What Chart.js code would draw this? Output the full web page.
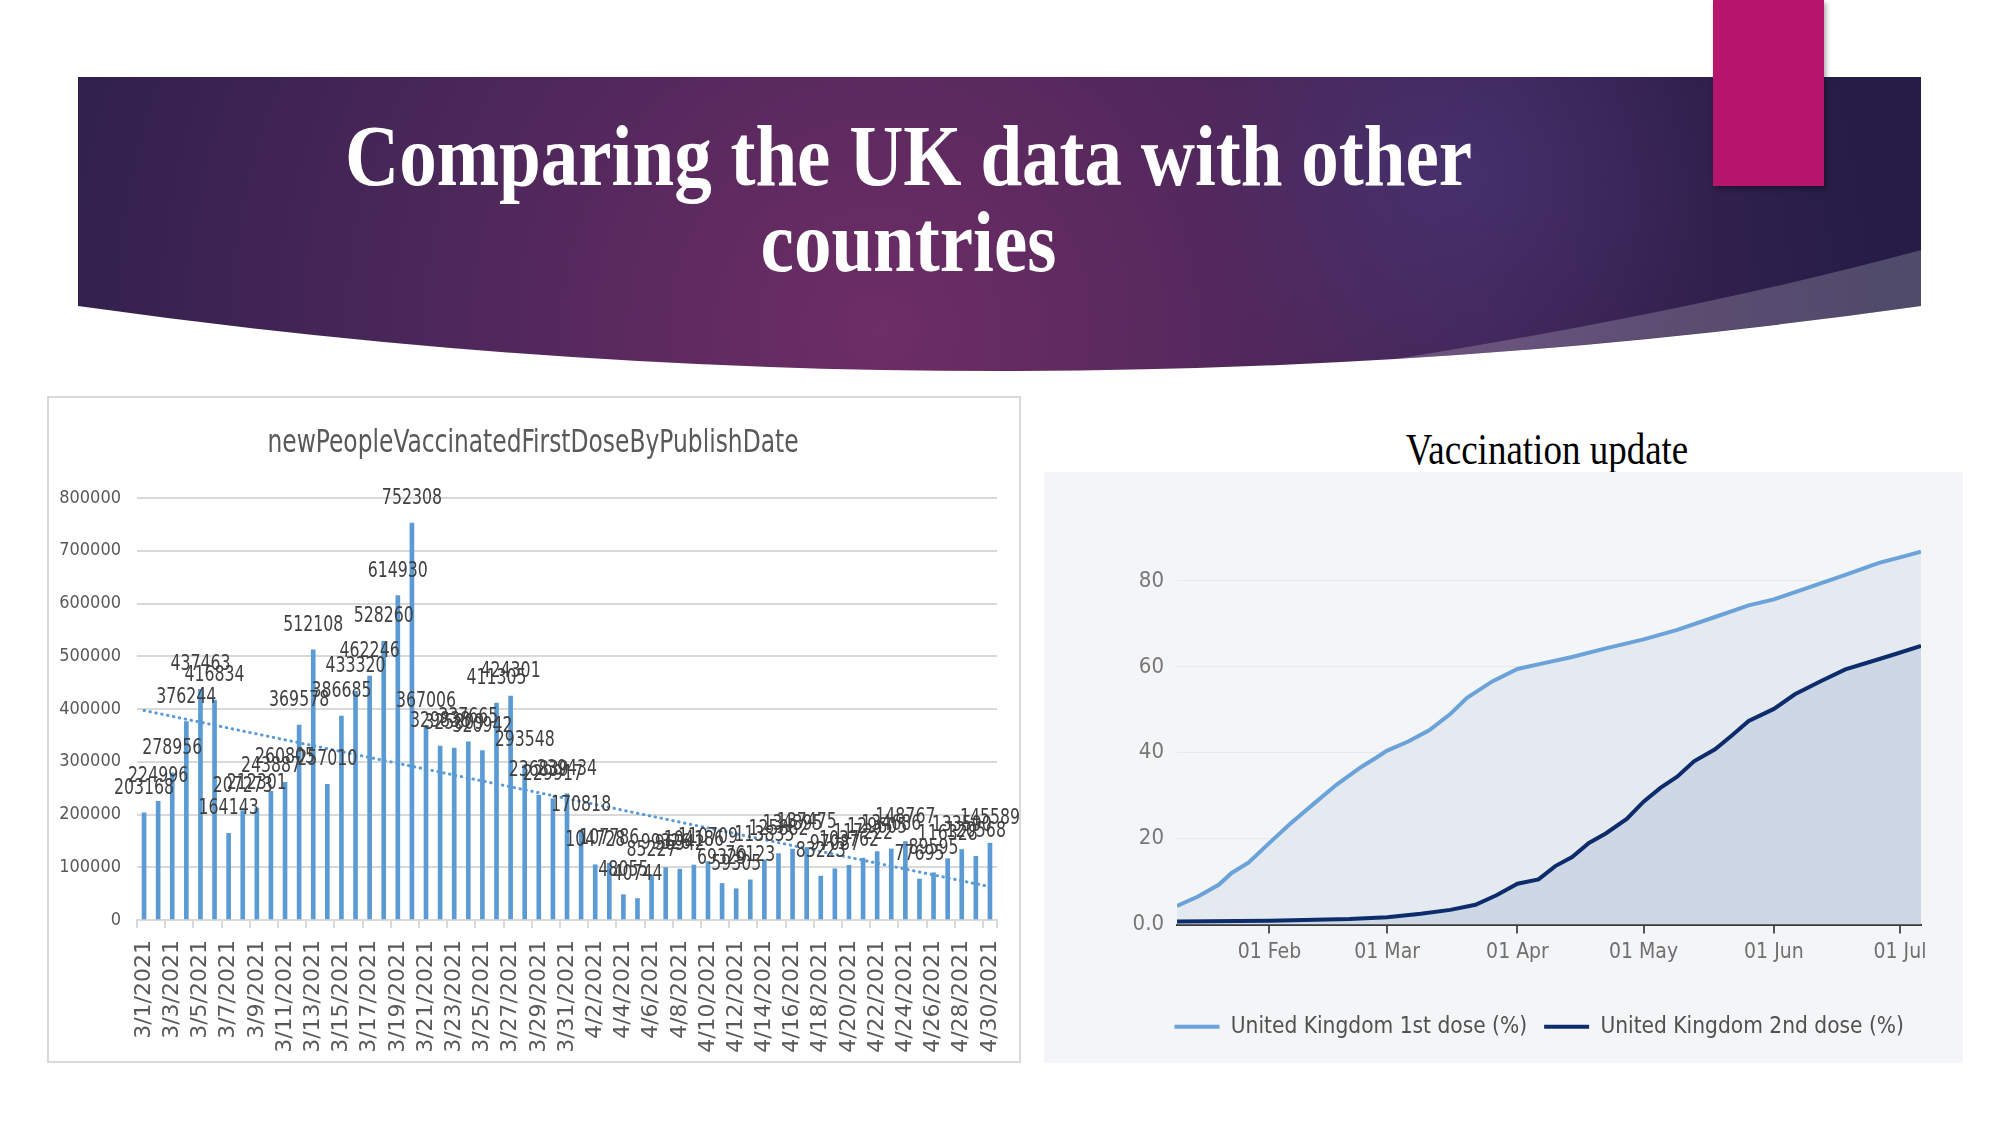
<!DOCTYPE html>
<html>
<head>
<meta charset="utf-8">
<script src="https://cdn.jsdelivr.net/npm/chart.js@4.4.0/dist/chart.umd.min.js"></script>
<style>
  body { margin: 0; width: 2001px; height: 1125px; overflow: hidden; background: #fff; position: relative; }
  .abs { position: absolute; }
  .slideTitle { left: 0; width: 1817px; text-align: center; color: #fff; font: bold 75px "Liberation Serif", "DejaVu Serif", serif; line-height: 1; transform: scaleY(1.15); transform-origin: 50% 0; white-space: nowrap; }
  #pink { left: 1713px; top: 0; width: 111px; height: 186px; background: #b5166b; box-shadow: 2px 3px 5px rgba(0,0,0,0.35); }
  #leftFrame { left: 47px; top: 396px; width: 974px; height: 667px; border: 2px solid #d9d9d9; box-sizing: border-box; background: #fff; }
  #leftWrap { left: 47px; top: 396px; width: 974px; height: 667px; }
  #rightPanel { left: 1044px; top: 472px; width: 919px; height: 591px; background: #f4f5f7; }
  #rightWrap { left: 1044px; top: 472px; width: 1006px; height: 591px; }
  #vacTitle { left: 1247px; width: 600px; top: 428px; text-align: center; color: #000; font: 37px "Liberation Serif", "DejaVu Serif", serif; line-height: 1; transform: scaleY(1.17); transform-origin: 50% 0; }
</style>
</head>
<body>
<svg class="abs" style="left:0;top:0" width="2001" height="400">
  <defs>
    <radialGradient id="bannerGrad" cx="880" cy="330" r="1000" gradientUnits="userSpaceOnUse">
      <stop offset="0" stop-color="#6e2d66"/>
      <stop offset="0.45" stop-color="#4c275a"/>
      <stop offset="1" stop-color="#251d47"/>
    </radialGradient>
    <radialGradient id="blob" cx="1460" cy="170" r="260" gradientUnits="userSpaceOnUse">
      <stop offset="0" stop-color="#4a3a80" stop-opacity="0.55"/>
      <stop offset="1" stop-color="#4a3a80" stop-opacity="0"/>
    </radialGradient>
  </defs>
  <path d="M78,77 H1921 V306 Q1000,436 78,306 Z" fill="url(#bannerGrad)"/>
  <path d="M78,77 H1921 V306 Q1000,436 78,306 Z" fill="url(#blob)"/>
  <path d="M1921,250 Q1700,310 1396,359 Q1658.5,343 1921,306 Z" fill="#ffffff" fill-opacity="0.2"/>
</svg>
<div id="pink" class="abs"></div>
<div class="abs slideTitle" style="top:113px">Comparing the UK data with other</div>
<div class="abs slideTitle" style="top:199px">countries</div>

<div id="leftFrame" class="abs"></div>
<div id="leftWrap" class="abs"><canvas id="barChart"></canvas></div>

<div id="vacTitle" class="abs">Vaccination update</div>
<div id="rightPanel" class="abs"></div>
<div id="rightWrap" class="abs"><canvas id="doseChart"></canvas></div>

<script>
// Daily first doses, 1 March to 30 April 2021
var dayLabels = [];
for (var d = 1; d <= 31; d++) dayLabels.push("3/" + d + "/2021");
for (var d = 1; d <= 30; d++) dayLabels.push("4/" + d + "/2021");

var firstDoses = [
  203168, 224996, 278956, 376244, 437463, 416834, 164143, 207273, 212301, 243887,
  260805, 369578, 512108, 257010, 386685, 433320, 462246, 528260, 614930, 752308,
  367006, 329838, 325809, 337665, 320942, 411305, 424301, 293548, 236839, 229917,
  239434, 170818, 104728, 107786, 48055, 40744, 85227, 99326, 96342, 104186,
  110709, 69329, 59305, 76123, 113835, 125882, 134395, 137475, 83223, 97087,
  103762, 117222, 129605, 134686, 148767, 77695, 89595, 116328, 133590, 120568,
  145589
];

// UK cumulative uptake (%), x = days since 10 Jan 2021
var firstDoseDays = [0, 5, 10, 13, 17, 22, 27, 33, 38, 44, 47, 50, 55, 60, 65, 69, 75, 81, 87, 94, 102, 111, 119, 128, 136, 142, 150, 159, 167, 172, 177];
var firstDosePct = [4.3, 6.5, 9.3, 12.0, 14.4, 19.0, 23.5, 28.5, 32.6, 36.8, 38.6, 40.5, 42.6, 45.2, 49.0, 52.8, 56.6, 59.5, 60.8, 62.3, 64.3, 66.4, 68.6, 71.6, 74.3, 75.7, 78.4, 81.4, 84.2, 85.5, 86.8];
var secondDoseDays = [0, 22, 41, 50, 58, 65, 71, 76, 81, 86, 90, 94, 98, 102, 107, 111, 115, 119, 123, 128, 132, 136, 142, 147, 153, 159, 164, 170, 177];
var secondDosePct = [0.7, 0.9, 1.3, 1.7, 2.5, 3.4, 4.6, 6.8, 9.5, 10.5, 13.6, 15.7, 19.0, 21.2, 24.6, 28.6, 31.8, 34.4, 38.0, 40.8, 44.0, 47.4, 50.2, 53.6, 56.6, 59.4, 60.9, 62.7, 64.9];
var monthDays = [22, 50, 81, 111, 142, 172];
var monthLabels = ["01 Feb", "01 Mar", "01 Apr", "01 May", "01 Jun", "01 Jul"];

var NARROW = '"DejaVu Sans Condensed", "Liberation Sans Narrow", sans-serif';
var barTitle = "newPeopleVaccinatedFirstDoseByPublishDate";

// linear trendline (least squares) like the spreadsheet one
var n = firstDoses.length, sx = 0, sy = 0, sxy = 0, sxx = 0;
firstDoses.forEach(function (v, i) {
  var x = i + 1;
  sx += x; sy += v; sxy += x * v; sxx += x * x;
});
var slope = (n * sxy - sx * sy) / (n * sxx - sx * sx);
var icept = (sy - slope * sx) / n;
var trend = firstDoses.map(function (v, i) { return icept + slope * (i + 1); });

// title + value labels above the bars (stretched a bit, like the screenshot)
var barLabels = {
  id: "barLabels",
  afterDatasetsDraw: function (chart) {
    var ctx = chart.ctx;
    var meta = chart.getDatasetMeta(0);
    ctx.save();
    ctx.textAlign = "center";

    ctx.font = "26px " + NARROW;
    ctx.fillStyle = "#595959";
    ctx.textBaseline = "middle";
    ctx.save();
    ctx.translate(486, 48);
    ctx.scale(1, 1.2);
    ctx.fillText(barTitle, 0, 0);
    ctx.restore();

    ctx.font = "17.5px " + NARROW;
    ctx.fillStyle = "#404040";
    ctx.textBaseline = "alphabetic";
    meta.data.forEach(function (bar, i) {
      ctx.save();
      ctx.translate(bar.x, bar.y - 19);
      ctx.scale(1, 1.25);
      ctx.fillText(String(firstDoses[i]), 0, 0);
      ctx.restore();
    });
    ctx.restore();
  }
};

new Chart(document.getElementById("barChart"), {
  data: {
    labels: dayLabels,
    datasets: [
      {
        type: "bar",
        data: firstDoses,
        backgroundColor: "#5b9bd5",
        barThickness: 4,
        order: 2
      },
      {
        type: "line",
        data: trend,
        borderColor: "#5b9bd5",
        borderWidth: 3,
        borderDash: [0.5, 5.5],
        borderCapStyle: "round",
        pointRadius: 0,
        order: 1
      }
    ]
  },
  options: {
    responsive: true,
    maintainAspectRatio: false,
    animation: false,
    layout: { padding: { left: 0, right: 24, top: 102, bottom: 0 } },
    plugins: {
      legend: { display: false },
      tooltip: { enabled: false },
      title: { display: false }
    },
    scales: {
      x: {
        grid: {
          offset: true,
          drawOnChartArea: false,
          drawTicks: true,
          tickLength: 8,
          lineWidth: 2,
          color: function (c) { return c.index % 2 ? "rgba(0,0,0,0)" : "#d9d9d9"; }
        },
        border: { color: "#d9d9d9", width: 2 },
        ticks: {
          autoSkip: false,
          minRotation: 90,
          maxRotation: 90,
          padding: 12,
          color: "#595959",
          font: { family: "DejaVu Sans", size: 22 },
          callback: function (v, i) { return i % 2 === 0 ? dayLabels[i] : ""; }
        },
        afterFit: function (s) {
          s.height = 143;
          s.paddingLeft = 0;
          s.paddingRight = 0;
        }
      },
      y: {
        min: 0,
        max: 800000,
        ticks: {
          stepSize: 100000,
          padding: 16,
          color: "#595959",
          font: { family: NARROW, size: 18 },
          callback: function (v) { return String(v); }
        },
        grid: { color: "#d9d9d9", lineWidth: 2, drawTicks: false },
        border: { display: false },
        afterFit: function (s) { s.width = 90; }
      }
    }
  },
  plugins: [barLabels]
});

function toPoints(xs, ys) {
  return xs.map(function (x, i) { return { x: x, y: ys[i] }; });
}

new Chart(document.getElementById("doseChart"), {
  type: "line",
  data: {
    datasets: [
      {
        label: "United Kingdom 1st dose (%)",
        data: toPoints(firstDoseDays, firstDosePct),
        borderColor: "#6aa2d9",
        backgroundColor: "#e5eaf1",
        borderWidth: 4,
        fill: "origin",
        pointRadius: 0,
        order: 2
      },
      {
        label: "United Kingdom 2nd dose (%)",
        data: toPoints(secondDoseDays, secondDosePct),
        borderColor: "#0d2c6c",
        backgroundColor: "#cdd7e5",
        borderWidth: 4,
        fill: "origin",
        pointRadius: 0,
        order: 1
      }
    ]
  },
  options: {
    responsive: true,
    maintainAspectRatio: false,
    animation: false,
    layout: { padding: { left: 0, right: 129, top: 66, bottom: 15 } },
    plugins: {
      tooltip: { enabled: false },
      legend: {
        position: "bottom",
        align: "end",
        labels: {
          usePointStyle: true,
          pointStyle: "line",
          pointStyleWidth: 45,
          padding: 17,
          color: "#505050",
          font: { family: NARROW, size: 22.5 },
          sort: function (a, b) { return a.datasetIndex - b.datasetIndex; }
        }
      }
    },
    scales: {
      x: {
        type: "linear",
        min: 0,
        max: 177,
        afterBuildTicks: function (s) {
          s.ticks = monthDays.map(function (v) { return { value: v }; });
        },
        ticks: {
          padding: 6,
          color: "#6f6f6f",
          font: { family: NARROW, size: 21 },
          callback: function (v) { return monthLabels[monthDays.indexOf(v)]; }
        },
        grid: { drawOnChartArea: false, drawTicks: true, tickLength: 9, lineWidth: 2, color: "#555" },
        border: { color: "#3a3a3a", width: 2 },
        afterFit: function (s) { s.height = 74; }
      },
      y: {
        min: 0,
        max: 90,
        ticks: {
          stepSize: 20,
          includeBounds: false,
          padding: 13,
          color: "#777",
          font: { family: NARROW, size: 22 },
          callback: function (v) { return v === 0 ? "0.0" : v; }
        },
        grid: { color: "#e7e8ea", lineWidth: 1, drawTicks: false },
        border: { display: false },
        afterFit: function (s) { s.width = 133; }
      }
    }
  }
});
</script>
</body>
</html>
